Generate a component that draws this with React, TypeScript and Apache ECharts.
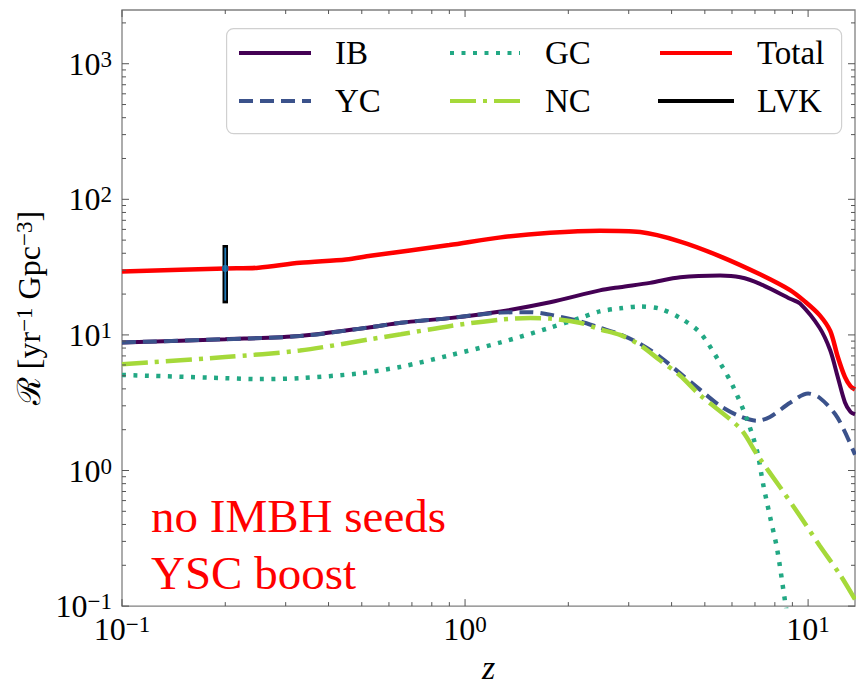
import React, { useEffect, useRef } from "react";
import * as echarts from "echarts";

// ---- data ----
const zIB = [0.1, 0.2, 0.33, 0.53, 0.65, 0.9, 1.27, 1.77, 2.47, 2.83, 3.46, 4.24, 5.54, 6.34, 7.24, 8.86, 9.48, 10.8, 11.6, 12.2, 12.8, 13.3, 13.7];
const rIB = [8.8, 9.3, 9.8, 11.4, 12.3, 13.3, 14.9, 17.4, 21.3, 22.5, 24.2, 26.6, 27.4, 26.6, 23.8, 18.5, 17.0, 11.3, 7.7, 4.9, 3.19, 2.7, 2.6];

const zYC = [0.1, 0.2, 0.33, 0.53, 0.65, 0.9, 1.27, 1.55, 1.77, 2.16, 2.47, 2.83, 3.24, 3.7, 4.24, 4.84, 5.54, 6.34, 7.1, 7.74, 8.86, 10.0, 10.8, 12.0, 12.8, 13.7];
const rYC = [8.8, 9.3, 9.8, 11.4, 12.3, 13.3, 14.6, 14.7, 14.1, 12.6, 11.3, 10.1, 8.6, 6.9, 5.2, 3.95, 3.0, 2.5, 2.33, 2.48, 3.16, 3.7, 3.44, 2.6, 1.93, 1.31];

const zGC = [0.1, 0.2, 0.25, 0.33, 0.49, 0.65, 0.9, 1.27, 1.77, 2.16, 2.47, 2.83, 3.24, 3.7, 4.24, 4.84, 5.54, 6.04, 6.63, 7.1, 7.39, 7.74, 8.12, 8.57, 8.9];
const rGC = [5.07, 4.8, 4.72, 4.8, 5.2, 5.82, 7.06, 8.8, 11.3, 13.3, 14.9, 15.7, 16.2, 15.6, 13.3, 10.4, 6.2, 4.18, 2.4, 1.39, 0.8, 0.46, 0.265, 0.108, 0.06];

const zNC = [0.1, 0.2, 0.33, 0.53, 0.65, 0.9, 1.27, 1.55, 1.77, 2.16, 2.47, 2.83, 3.24, 3.7, 4.24, 4.84, 6.34, 7.1, 8.28, 9.48, 10.8, 12.4, 13.7];
const rNC = [6.08, 6.87, 7.67, 9.3, 10.1, 11.6, 12.97, 13.3, 13.2, 12.3, 11.0, 10.0, 8.4, 6.5, 5.0, 3.6, 2.04, 1.31, 0.755, 0.46, 0.28, 0.17, 0.112];

const zTotal = [0.1, 0.2, 0.25, 0.33, 0.45, 0.53, 0.9, 1.27, 1.77, 2.47, 3.24, 4.24, 5.54, 7.24, 8.86, 9.8, 10.8, 11.6, 12.2, 12.8, 13.3, 13.7];
const rTotal = [29.4, 30.9, 31.3, 34, 36, 38.3, 46, 52.4, 56.6, 58.6, 57.3, 48.8, 38, 28, 21.4, 17.6, 14.0, 10.7, 6.9, 4.9, 4.17, 3.95];

const lvkZ = 0.2;
const lvkLow = 17.9;
const lvkHigh = 44;
const lvkMid = 30.95;

const X_MIN = 0.1;
const X_MAX = 13.7;
const Y_MIN = 0.1;
const Y_MAX = 2490;

const xMajor = [0.1, 1, 10];
const yMajor = [0.1, 1, 10, 100, 1000];
const mantissas = [2, 3, 4, 5, 6, 7, 8, 9];

const SERIF = '"Liberation Serif", "Times New Roman", serif';

const pairs = (xs: number[], ys: number[]) => xs.map((x, i) => [x, ys[i]]);

function minorTicks(lo: number, hi: number): number[] {
  const out: number[] = [];
  for (let k = -2; k <= 4; k++) {
    for (const m of mantissas) {
      const v = m * Math.pow(10, k);
      if (v > lo * 1.0001 && v < hi * 0.9999) out.push(v);
    }
  }
  return out;
}

function powLabel(v: number): string {
  const e = Math.log10(v);
  const r = Math.round(e);
  if (Math.abs(e - r) > 1e-6) return "";
  const s = r < 0 ? "\u2212" + Math.abs(r) : String(r);
  return "{b|10}{s|" + s + "}";
}

const labelRich = {
  b: { fontFamily: SERIF, fontSize: 32, lineHeight: 32, verticalAlign: "middle", color: "#000" },
  s: { fontFamily: SERIF, fontSize: 23, lineHeight: 18, verticalAlign: "top", color: "#000" },
};

export default function App() {
  const ref = useRef<HTMLDivElement>(null);
  useEffect(() => {
    if (!ref.current) return;
    const chart = echarts.init(ref.current, null, { renderer: "svg" });

    const tickData: number[][] = [];
    xMajor.forEach((v) => tickData.push([v, 1, 0, 1]));
    minorTicks(X_MIN, X_MAX).forEach((v) => tickData.push([v, 1, 0, 0]));
    yMajor.forEach((v) => tickData.push([1, v, 1, 1]));
    minorTicks(Y_MIN, Y_MAX).forEach((v) => tickData.push([1, v, 1, 0]));

    const tickColor = "#555555";

    const legendCommon = {
      orient: "vertical",
      top: 36,
      padding: 0,
      itemWidth: 72,
      itemHeight: 14,
      itemGap: 14,
      itemStyle: { opacity: 0 },
      lineStyle: { width: 4 },
    };
    const legendText = (pad: number) => ({
      fontFamily: SERIF,
      fontSize: 33,
      lineHeight: 34,
      color: "#000",
      padding: [0, 0, 0, pad],
    });

    const option: any = {
      animation: false,
      backgroundColor: "#ffffff",
      grid: {
        left: 122,
        right: 1,
        top: 10,
        bottom: 67,
        show: true,
        borderColor: "#808080",
        borderWidth: 1.3,
        backgroundColor: "transparent",
      },
      xAxis: {
        type: "log",
        logBase: 10,
        min: X_MIN,
        max: X_MAX,
        axisLine: { show: false },
        axisTick: { show: false },
        splitLine: { show: false },
        minorTick: { show: false },
        axisLabel: {
          formatter: (v: number) => powLabel(v),
          margin: 7,
          rich: labelRich,
          showMaxLabel: false,
        },
        name: "z",
        nameLocation: "middle",
        nameGap: 43,
        nameTextStyle: { fontFamily: SERIF, fontStyle: "italic", fontSize: 34, color: "#000" },
      },
      yAxis: {
        type: "log",
        logBase: 10,
        min: Y_MIN,
        max: Y_MAX,
        axisLine: { show: false },
        axisTick: { show: false },
        splitLine: { show: false },
        minorTick: { show: false },
        axisLabel: {
          formatter: (v: number) => powLabel(v),
          margin: 10,
          rich: labelRich,
          showMaxLabel: false,
        },
        name: "{r|\u211B} [yr{s|\u22121} Gpc{s|\u22123}]",
        nameLocation: "middle",
        nameGap: 72,
        nameRotate: 90,
        nameTextStyle: {
          fontFamily: SERIF,
          fontSize: 32,
          lineHeight: 32,
          color: "#000",
          rich: {
            r: { fontFamily: '"DejaVu Serif", serif', fontSize: 32, lineHeight: 32, verticalAlign: "middle", color: "#000" },
            s: { fontFamily: SERIF, fontSize: 23, lineHeight: 18, verticalAlign: "top", color: "#000" },
          },
        },
      },
      legend: [
        { ...legendCommon, data: ["IB", "YC"], left: 237, textStyle: legendText(19) },
        { ...legendCommon, data: ["GC", "NC"], left: 448, itemWidth: 70, textStyle: legendText(20) },
        { ...legendCommon, data: ["Total", "LVK"], left: 658, textStyle: legendText(20) },
      ],
      graphic: [
        {
          type: "rect",
          left: 226,
          top: 28,
          z: 3,
          shape: { width: 615, height: 105, r: 7 },
          style: { fill: "rgba(255,255,255,0.85)", stroke: "#d0d0d0", lineWidth: 1.2 },
        },
        {
          type: "text",
          left: 151,
          top: 487,
          z: 5,
          style: {
            text: "no IMBH seeds\nYSC boost",
            fill: "#ff0000",
            font: '47px "Liberation Serif", serif',
            lineHeight: 57,
          },
        },
      ],
      series: [
        {
          name: "IB",
          type: "line",
          data: pairs(zIB, rIB),
          symbol: "none",
          smooth: 0.3,
          color: "#440154",
          lineStyle: { color: "#440154", width: 4 },
          z: 2,
        },
        {
          name: "YC",
          type: "line",
          data: pairs(zYC, rYC),
          symbol: "none",
          smooth: 0.3,
          color: "#3b528b",
          lineStyle: { color: "#3b528b", width: 4, type: [14, 7], cap: "butt" },
          z: 2,
        },
        {
          name: "GC",
          type: "line",
          data: pairs(zGC, rGC),
          symbol: "none",
          smooth: 0.3,
          color: "#22a884",
          lineStyle: { color: "#22a884", width: 4.5, type: [4, 7.5], cap: "butt" },
          z: 2,
        },
        {
          name: "NC",
          type: "line",
          data: pairs(zNC, rNC),
          symbol: "none",
          smooth: 0.3,
          color: "#a5d93a",
          lineStyle: { color: "#a5d93a", width: 4.5, type: [26, 7, 4, 7], cap: "butt" },
          z: 2,
        },
        {
          name: "Total",
          type: "line",
          data: pairs(zTotal, rTotal),
          symbol: "none",
          smooth: 0.3,
          color: "#ff0000",
          lineStyle: { color: "#ff0000", width: 4.5 },
          z: 2,
        },
        {
          name: "LVK",
          type: "line",
          data: [
            [lvkZ, lvkLow],
            [lvkZ, lvkHigh],
          ],
          symbol: "none",
          color: "#000000",
          lineStyle: { color: "#000000", width: 5.5, cap: "square" },
          z: 3,
        },
        {
          name: "LVK-inner",
          type: "line",
          data: [
            [lvkZ, lvkLow],
            [lvkZ, lvkHigh],
          ],
          symbol: "none",
          lineStyle: { color: "#1f77b4", width: 1.8 },
          z: 3,
          silent: true,
        },
        {
          name: "LVK-point",
          type: "scatter",
          data: [[lvkZ, lvkMid]],
          symbolSize: 7,
          itemStyle: { color: "#1f77b4" },
          z: 3,
          silent: true,
        },
        {
          name: "ticks",
          type: "custom",
          coordinateSystem: "cartesian2d",
          silent: true,
          clip: false,
          z: 6,
          encode: { x: 0, y: 1 },
          data: tickData,
          renderItem: (_params: any, api: any) => {
            const side = api.value(2);
            const len = api.value(3) ? 7 : 4;
            const style = { stroke: tickColor, lineWidth: 1 };
            if (side === 0) {
              const v = api.value(0);
              const pb = api.coord([v, Y_MIN]);
              const pt = api.coord([v, Y_MAX]);
              return {
                type: "group",
                children: [
                  { type: "line", shape: { x1: pb[0], y1: pb[1], x2: pb[0], y2: pb[1] - len }, style },
                  { type: "line", shape: { x1: pt[0], y1: pt[1], x2: pt[0], y2: pt[1] + len }, style },
                ],
              };
            }
            const v = api.value(1);
            const pl = api.coord([X_MIN, v]);
            const pr = api.coord([X_MAX, v]);
            return {
              type: "group",
              children: [
                { type: "line", shape: { x1: pl[0], y1: pl[1], x2: pl[0] + len, y2: pl[1] }, style },
                { type: "line", shape: { x1: pr[0], y1: pr[1], x2: pr[0] - len, y2: pr[1] }, style },
              ],
            };
          },
        },
      ],
    };

    chart.setOption(option);
    return () => chart.dispose();
  }, []);

  return (
    <div
      ref={ref}
      style={{ position: "fixed", left: 0, top: 0, width: 856, height: 689, background: "#fff" }}
    />
  );
}
